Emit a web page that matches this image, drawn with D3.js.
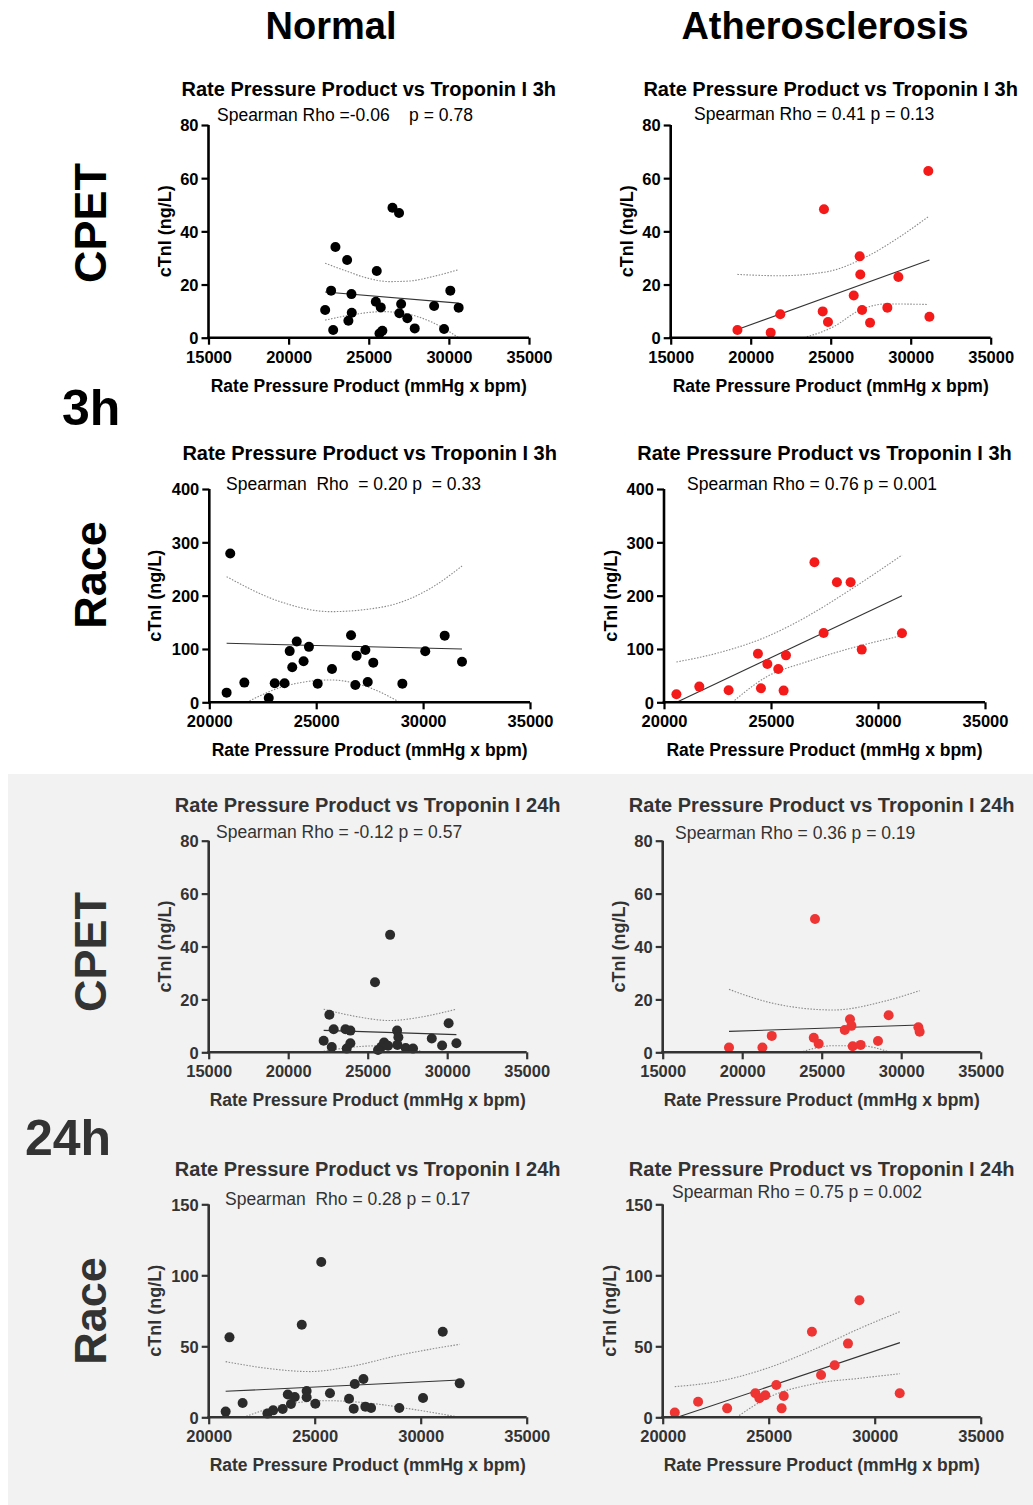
<!DOCTYPE html>
<html>
  <head>
    <meta charset="utf-8">
    <title>Rate Pressure Product vs Troponin I</title>
    <script src="https://d3js.org/d3.v7.min.js"></script>
    <style>
      body { margin: 0; background: #fff; }
      svg { display: block; font-family: "Liberation Sans", Arial, sans-serif; }
      .rho { white-space: pre; }
    </style>
  </head>
  <body>
    <svg id="chart" width="1033" height="1505"></svg>
    <script>
      // data: [rate pressure product, cTnI]
      const cpetNormal3h = [[22280,10.4],[22650,17.7],[22920,34.1],[22780,2.9],[23650,29.2],[23730,6.4],[23920,16.4],[23940,9.4],[25500,25.1],[25670,1.6],[25850,2.6],[25440,13.5],[25750,11.4],[26480,48.9],[26890,46.9],[26910,9.2],[27020,12.7],[27410,7.3],[27870,3.5],[29080,11.9],[29700,3.3],[30090,17.7],[30610,11.3]];
      const cpetNormal3hFit = [[22280,17.2],[30610,13.0]];
      const cpetNormal3hUpper = [[22280,28.0],[23500,25.3],[24800,22.6],[26300,21.1],[27500,21.3],[29000,23.0],[30610,25.6]];
      const cpetNormal3hLower = [[22280,6.6],[23840,8.5],[25900,9.8],[27160,9.2],[29030,5.6],[30610,0]];

      const cpetAthero3h = [[19170,2.9],[21250,1.9],[21850,8.8],[24500,9.9],[24580,48.3],[24830,5.9],[26440,15.9],[26810,30.6],[26850,23.8],[26960,10.4],[27460,5.6],[28540,11.3],[29230,22.8],[31100,62.7],[31170,7.9]];
      const cpetAthero3hFit = [[19170,3.1],[31170,29.2]];
      const cpetAthero3hUpper = [[19170,23.8],[21830,23.3],[24750,24.8],[27250,30.5],[29330,38.0],[31100,45.5]];
      const cpetAthero3hLower = [[23330,0],[25170,4.1],[26830,10.4],[28500,12.7],[31100,12.5]];

      const raceNormal3h = [[20810,18.1],[20980,279],[21640,36.9],[22780,8.1],[23060,35.6],[23520,35.6],[23760,96],[23880,65.6],[24090,114],[24410,77],[24660,104],[25070,35],[25740,62.5],[26630,125.6],[26830,32.5],[26890,87.5],[27300,98],[27410,38],[27670,74.4],[29030,35],[30100,95.6],[31010,125],[31820,76]];
      const raceNormal3hFit = [[20810,110.6],[31820,100]];
      const raceNormal3hUpper = [[20810,235.6],[23310,188.8],[25650,170],[28140,179],[30480,217],[31820,255.6]];
      const raceNormal3hLower = [[21750,0],[23460,29.4],[25650,41.9],[27360,29.4],[28920,0]];

      const raceAthero3h = [[20580,15],[21650,29.4],[23020,22.5],[24390,91],[24530,26.3],[24830,71.9],[25340,62.5],[25590,21.9],[25700,88],[27030,262.5],[27460,130],[28080,225],[28720,225],[29240,98.8],[31120,129.4]];
      const raceAthero3hFit = [[20590,0],[31120,200]];
      const raceAthero3hUpper = [[20580,75.6],[22460,91.9],[24800,123],[26670,160.6],[28690,210.6],[31120,276]];
      const raceAthero3hLower = [[23190,0],[24800,48],[26670,76],[28690,101],[31120,125]];

      const cpetNormal24h = [[22230,4.4],[22590,14.2],[22740,2.0],[22860,8.7],[23600,8.7],[23680,1.4],[23910,8.2],[23910,3.4],[25460,26.5],[25650,0.9],[25860,2.1],[26030,3.7],[26280,2.5],[26410,44.4],[26850,8.2],[26930,5.7],[26870,2.8],[27390,1.6],[27850,1.4],[29030,5.2],[29680,2.6],[30090,11],[30580,3.4]];
      const cpetNormal24hFit = [[22230,8.3],[30580,6.7]];
      const cpetNormal24hUpper = [[22230,16.3],[24310,13.5],[26410,12.0],[28500,13.5],[30580,16.3]];
      const cpetNormal24hLower = [[22230,0.4],[24310,2.1],[25990,2.5],[27660,1.1],[28710,0]];

      const cpetAthero24h = [[19170,1.8],[21270,1.8],[21860,6.2],[24500,5.5],[24580,50.4],[24810,3.2],[26450,8.4],[26780,12.5],[26870,10],[26950,2.3],[27450,2.8],[28540,4.3],[29210,14],[31080,9.5],[31160,7.8]];
      const cpetAthero24hFit = [[19170,7.9],[31160,10.3]];
      const cpetAthero24hUpper = [[19170,23.8],[21960,18.5],[25730,16],[28880,19.2],[31160,23.3]];
      const cpetAthero24hLower = [[23640,0],[25730,2.5],[27410,2.5],[29300,0]];

      const raceNormal24h = [[20800,4.0],[20980,56.3],[21600,10.1],[22770,2.6],[23040,4.9],[23490,5.9],[23730,16],[23880,9.4],[24060,14.3],[24390,65.2],[24620,18.5],[24620,14.1],[25030,9.6],[25310,109.4],[25720,16.9],[26620,13.1],[26840,6.1],[26890,23.5],[27300,27],[27390,7.5],[27660,6.6],[28990,6.6],[30110,13.6],[31040,60.3],[31840,23.9]];
      const raceNormal24hFit = [[20800,18.3],[31840,26.3]];
      const raceNormal24hUpper = [[20800,39.2],[22740,34.5],[24780,32.2],[26670,35.7],[29030,43.9],[31840,51.4]];
      const raceNormal24hLower = [[21640,0],[23520,8.7],[25570,11.7],[27610,9.9],[29810,5.2],[31840,0]];

      const raceAthero24h = [[20570,3.3],[21670,11],[23040,6.3],[24370,16.9],[24560,13.4],[24840,15.5],[25360,22.8],[25610,6.3],[25710,15],[27040,60.3],[27470,29.8],[28110,36.6],[28740,51.9],[29280,82.4],[31180,16.9]];
      const raceAthero24hFit = [[20690,0],[31190,52.6]];
      const raceAthero24hUpper = [[20570,21.6],[22550,25.1],[24910,34.5],[27260,48.6],[29310,62.7],[31190,74.4]];
      const raceAthero24hLower = [[23490,0],[24910,13.4],[27260,23.9],[29310,27.5],[31190,30.7]];

      // axis ticks
      const cpetXTicks = [15000, 20000, 25000, 30000, 35000];
      const raceXTicks = [20000, 25000, 30000, 35000];
      const y80Ticks = [0, 20, 40, 60, 80];
      const y400Ticks = [0, 100, 200, 300, 400];
      const y150Ticks = [0, 50, 100, 150];

      const columnTitles = ["Normal", "Atherosclerosis"];
      const title3h = "Rate Pressure Product vs Troponin I 3h";
      const title24h = "Rate Pressure Product vs Troponin I 24h";
      const rhoTexts = [
        "Spearman Rho =-0.06    p = 0.78",
        "Spearman Rho = 0.41 p = 0.13",
        "Spearman  Rho  = 0.20 p  = 0.33",
        "Spearman Rho = 0.76 p = 0.001",
        "Spearman Rho = -0.12 p = 0.57",
        "Spearman Rho = 0.36 p = 0.19",
        "Spearman  Rho = 0.28 p = 0.17",
        "Spearman Rho = 0.75 p = 0.002"
      ];

      // panel layout
      const panels = [
        { pts: cpetNormal3h, fit: cpetNormal3hFit, up: cpetNormal3hUpper, lo: cpetNormal3hLower, xt: cpetXTicks, yt: y80Ticks, title: title3h, rho: rhoTexts[0],
          l: 208.5, r: 529, t: 125, b: 337.7, titleY: 96, rhoX: 217, rhoY: 121, ylab: 38, dot: "#000", ink: "#000" },
        { pts: cpetAthero3h, fit: cpetAthero3hFit, up: cpetAthero3hUpper, lo: cpetAthero3hLower, xt: cpetXTicks, yt: y80Ticks, title: title3h, rho: rhoTexts[1],
          l: 670.7, r: 990.7, t: 125, b: 337.7, titleY: 96, rhoX: 694, rhoY: 120, ylab: 38, dot: "#f41a1a", ink: "#000" },
        { pts: raceNormal3h, fit: raceNormal3hFit, up: raceNormal3hUpper, lo: raceNormal3hLower, xt: raceXTicks, yt: y400Ticks, title: title3h, rho: rhoTexts[2],
          l: 209.3, r: 530, t: 489, b: 702.3, titleY: 460, rhoX: 226, rhoY: 489.5, ylab: 48, dot: "#000", ink: "#000" },
        { pts: raceAthero3h, fit: raceAthero3hFit, up: raceAthero3hUpper, lo: raceAthero3hLower, xt: raceXTicks, yt: y400Ticks, title: title3h, rho: rhoTexts[3],
          l: 664, r: 985, t: 489, b: 702.3, titleY: 460, rhoX: 687, rhoY: 489.5, ylab: 47, dot: "#f41a1a", ink: "#000" },
        { pts: cpetNormal24h, fit: cpetNormal24hFit, up: cpetNormal24hUpper, lo: cpetNormal24hLower, xt: cpetXTicks, yt: y80Ticks, title: title24h, rho: rhoTexts[4],
          l: 208.7, r: 526.7, t: 840.7, b: 1052.3, titleY: 812, rhoX: 216, rhoY: 838, ylab: 38, dot: "#2b2b2b", ink: "#333" },
        { pts: cpetAthero24h, fit: cpetAthero24hFit, up: cpetAthero24hUpper, lo: cpetAthero24hLower, xt: cpetXTicks, yt: y80Ticks, title: title24h, rho: rhoTexts[5],
          l: 662.7, r: 980.7, t: 840.7, b: 1052.3, titleY: 812, rhoX: 675, rhoY: 838.5, ylab: 38, dot: "#ef3434", ink: "#333" },
        { pts: raceNormal24h, fit: raceNormal24hFit, up: raceNormal24hUpper, lo: raceNormal24hLower, xt: raceXTicks, yt: y150Ticks, title: title24h, rho: rhoTexts[6],
          l: 208.7, r: 526.7, t: 1204.3, b: 1417.3, titleY: 1176, rhoX: 225, rhoY: 1205, ylab: 48, dot: "#2b2b2b", ink: "#333" },
        { pts: raceAthero24h, fit: raceAthero24hFit, up: raceAthero24hUpper, lo: raceAthero24hLower, xt: raceXTicks, yt: y150Ticks, title: title24h, rho: rhoTexts[7],
          l: 662.7, r: 980.7, t: 1204.3, b: 1417.3, titleY: 1176, rhoX: 672, rhoY: 1198, ylab: 47, dot: "#ef3434", ink: "#333" }
      ];

      chart = d3.select("#chart");

      // grey backdrop for the 24h block
      chart.append("rect")
        .attr("x", 8).attr("y", 774)
        .attr("width", 1025).attr("height", 731)
        .attr("fill", "#f2f2f2");

      // column headings
      chart.selectAll(".colTitle")
        .data(columnTitles)
        .enter().append("text")
          .attr("class", "colTitle")
          .attr("x", function(d, i) { return i === 0 ? 331 : 825; })
          .attr("y", 39)
          .attr("text-anchor", "middle")
          .attr("font-weight", "bold")
          .attr("font-size", "38px")
          .text(function(d) { return d; });

      // row labels
      const rowLabels = [
        { text: "CPET", cy: 223, ink: "#000" },
        { text: "Race", cy: 575, ink: "#000" },
        { text: "CPET", cy: 952, ink: "#333" },
        { text: "Race", cy: 1311, ink: "#333" }
      ];
      chart.selectAll(".rowLabel")
        .data(rowLabels)
        .enter().append("text")
          .attr("class", "rowLabel")
          .attr("transform", function(d) { return "translate(106," + d.cy + ") rotate(-90)"; })
          .attr("text-anchor", "middle")
          .attr("font-weight", "bold")
          .attr("font-size", "45px")
          .attr("fill", function(d) { return d.ink; })
          .text(function(d) { return d.text; });

      chart.append("text")
        .attr("x", 62).attr("y", 425)
        .attr("font-weight", "bold").attr("font-size", "50px")
        .text("3h");
      chart.append("text")
        .attr("x", 25).attr("y", 1155)
        .attr("font-weight", "bold").attr("font-size", "50px")
        .attr("fill", "#333")
        .text("24h");

      panels.forEach(drawPanel);

      function drawPanel(p) {
        const g = chart.append("g");
        const x = d3.scaleLinear()
          .domain([p.xt[0], p.xt[p.xt.length - 1]])
          .range([p.l, p.r]);
        const y = d3.scaleLinear()
          .domain([0, p.yt[p.yt.length - 1]])
          .range([p.b, p.t]);
        const line = d3.line()
          .x(function(d) { return x(d[0]); })
          .y(function(d) { return y(d[1]); });
        const curve = d3.line()
          .curve(d3.curveMonotoneX)
          .x(function(d) { return x(d[0]); })
          .y(function(d) { return y(d[1]); });

        // confidence bands + fit
        [p.up, p.lo].forEach(function(band) {
          g.append("path")
            .attr("d", curve(band))
            .attr("fill", "none")
            .attr("stroke", "#8a8a8a")
            .attr("stroke-width", 1.1)
            .attr("stroke-dasharray", "1.5,1.5");
        });
        g.append("path")
          .attr("d", line(p.fit))
          .attr("fill", "none")
          .attr("stroke", "#333")
          .attr("stroke-width", 1.1);

        // points
        g.selectAll("circle")
          .data(p.pts)
          .enter().append("circle")
            .attr("cx", function(d) { return x(d[0]); })
            .attr("cy", function(d) { return y(d[1]); })
            .attr("r", 5)
            .attr("fill", p.dot);

        // axes
        const xAxis = d3.axisBottom(x)
          .tickValues(p.xt)
          .tickFormat(d3.format("d"))
          .tickSizeInner(7)
          .tickSizeOuter(0)
          .tickPadding(5);
        const yAxis = d3.axisLeft(y)
          .tickValues(p.yt)
          .tickFormat(d3.format("d"))
          .tickSizeInner(7)
          .tickSizeOuter(0)
          .tickPadding(3);
        const xg = g.append("g")
          .attr("transform", "translate(0," + p.b + ")")
          .call(xAxis);
        const yg = g.append("g")
          .attr("transform", "translate(" + p.l + ",0)")
          .call(yAxis);
        [xg, yg].forEach(function(ax) {
          ax.attr("font-family", null).attr("font-size", null);
          ax.select(".domain").attr("stroke", p.ink).attr("stroke-width", 2.6);
          ax.selectAll(".tick line").attr("stroke", p.ink).attr("stroke-width", 2.2);
          ax.selectAll(".tick text")
            .attr("fill", p.ink)
            .attr("font-family", "Liberation Sans, Arial, sans-serif")
            .attr("font-weight", "bold")
            .attr("font-size", "16.5px");
        });
        xg.selectAll(".tick text").attr("dy", "0.8em");
        yg.selectAll(".tick text").attr("dy", "0.36em");
        // stretch domain ends so the thick lines meet at the corner
        xg.select(".domain").attr("d", "M" + (p.l - 1.3) + ",0H" + p.r);
        yg.select(".domain").attr("d", "M0," + (p.b + 1.3) + "V" + p.t);

        // texts
        const mid = (p.l + p.r) / 2;
        g.append("text")
          .attr("x", mid).attr("y", p.titleY)
          .attr("text-anchor", "middle")
          .attr("font-weight", "bold").attr("font-size", "20px")
          .attr("fill", p.ink)
          .text(p.title);
        g.append("text")
          .attr("class", "rho")
          .attr("x", p.rhoX).attr("y", p.rhoY)
          .attr("font-size", "17.5px")
          .attr("fill", p.ink)
          .text(p.rho);
        g.append("text")
          .attr("x", mid).attr("y", p.b + 54)
          .attr("text-anchor", "middle")
          .attr("font-weight", "bold").attr("font-size", "17.5px")
          .attr("fill", p.ink)
          .text("Rate Pressure Product (mmHg x bpm)");
        g.append("text")
          .attr("transform", "translate(" + (p.l - p.ylab) + "," + ((p.t + p.b) / 2) + ") rotate(-90)")
          .attr("text-anchor", "middle")
          .attr("font-weight", "bold").attr("font-size", "18px")
          .attr("fill", p.ink)
          .text("cTnI (ng/L)");
      }
    </script>
  </body>
</html>
